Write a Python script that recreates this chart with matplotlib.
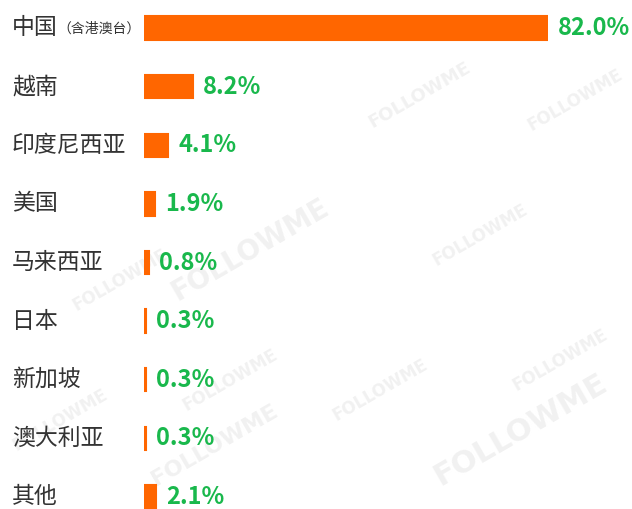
import matplotlib
matplotlib.use("Agg")
import matplotlib.pyplot as plt
from matplotlib.transforms import offset_copy

plt.rcParams['font.family'] = ['Noto Sans CJK SC', 'DejaVu Sans']

categories = ["中国", "越南", "印度尼西亚", "美国", "马来西亚", "日本", "新加坡", "澳大利亚", "其他"]
category_notes = ["（含港澳台）", "", "", "", "", "", "", "", ""]
values = [82.0, 8.2, 4.1, 1.9, 0.8, 0.3, 0.3, 0.3, 2.1]
value_labels = ["82.0%", "8.2%", "4.1%", "1.9%", "0.8%", "0.3%", "0.3%", "0.3%", "2.1%"]

BAR_COLOR = "#ff6600"
LABEL_COLOR = "#19b84c"
TEXT_COLOR = "#333333"

W, H = 632, 509
fig = plt.figure(figsize=(W / 100, H / 100), dpi=100)
fig.patch.set_facecolor("white")

# watermarks
marks = [(420, 95, 13), (250, 250, 20), (480, 235, 12), (575, 100, 12),
         (120, 280, 12), (560, 360, 12), (380, 390, 12), (230, 380, 12),
         (520, 430, 22), (215, 445, 16), (60, 420, 12)]
for x, y, s in marks:
    fig.text(x / W, 1 - y / H, "FOLLOWME", fontsize=s, color="#f1f1f1",
             fontweight="bold", rotation=30, ha="center", va="center",
             family="DejaVu Sans", zorder=-5)

left_px, right_px = 144, 548
ax = fig.add_axes([left_px / W, 0, (right_px - left_px) / W, 1])
ax.set_zorder(2)
ax.set_facecolor("none")
xmax = 68.2
ax.set_xlim(0, xmax)
ax.set_ylim(8 + 12 / 58.6, -28 / 58.6)

ypos = list(range(len(categories)))
ax.barh(ypos, values, height=0.40, color=BAR_COLOR, edgecolor=BAR_COLOR,
        linewidth=1.5, zorder=3)

for y, v, lab in zip(ypos, values, value_labels):
    xv = min(v, xmax)
    tr = offset_copy(ax.transData, fig=fig, x=10, y=0, units="dots")
    ax.text(xv, y, lab, transform=tr, ha="left", va="center",
            fontsize=17, fontweight="bold", color=LABEL_COLOR, clip_on=False, zorder=4)

for y, c, note in zip(ypos, categories, category_notes):
    fy = 1 - (28 + y * 58.6) / H
    t = fig.text(12 / W, fy, c, fontsize=16.5, color=TEXT_COLOR,
                 fontweight="medium", ha="left", va="center")
    if note:
        fig.canvas.draw()
        bb = t.get_window_extent()
        fig.text(bb.x1 / W, fy - 1 / H, note, fontsize=10, color=TEXT_COLOR,
                 fontweight="medium", ha="left", va="center")

for s in ax.spines.values():
    s.set_visible(False)
ax.set_xticks([])
ax.set_yticks([])

fig.savefig("out.png", dpi=100, facecolor="white")
